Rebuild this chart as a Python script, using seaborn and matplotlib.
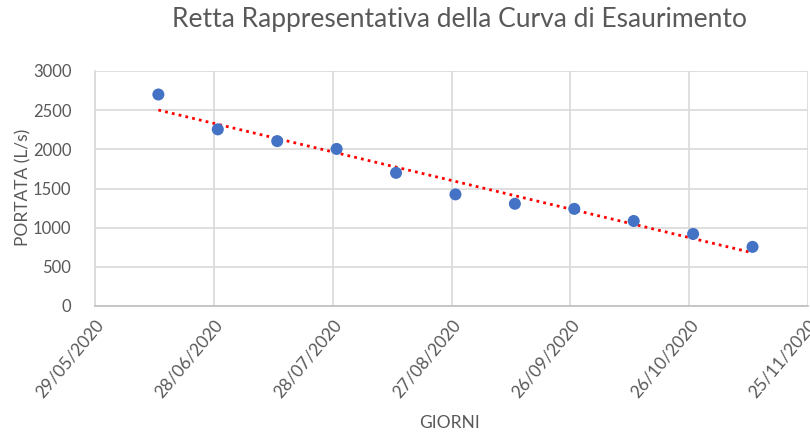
import matplotlib
matplotlib.use("Agg")
import matplotlib.pyplot as plt
import matplotlib.dates as mdates
import seaborn as sns
import pandas as pd
import numpy as np

dates = ["14/06/2020", "29/06/2020", "14/07/2020", "29/07/2020", "13/08/2020",
         "28/08/2020", "12/09/2020", "27/09/2020", "12/10/2020", "27/10/2020",
         "11/11/2020"]
portata = [2700, 2255, 2105, 2005, 1700, 1425, 1305, 1240, 1085, 920, 755]
x_ticks = ["29/05/2020", "28/06/2020", "28/07/2020", "27/08/2020",
           "26/09/2020", "26/10/2020", "25/11/2020"]
y_ticks = [0, 500, 1000, 1500, 2000, 2500, 3000]

sns.set_theme(style="white")
plt.rcParams['font.family'] = ['Lato', 'DejaVu Sans']

df = pd.DataFrame({
    "giorno": mdates.date2num(pd.to_datetime(dates, format="%d/%m/%Y")),
    "portata": portata,
})
tick_nums = mdates.date2num(pd.to_datetime(x_ticks, format="%d/%m/%Y"))

fig = plt.figure(figsize=(8.10, 4.34), dpi=100)
ax = fig.add_axes([95/810, 1-306/434, (808-95)/810, (306-71)/434])

sns.regplot(data=df, x="giorno", y="portata", ax=ax, scatter=False, ci=None,
            truncate=True,
            line_kws=dict(color="#ff0000", linestyle=(0, (1, 1.5)), linewidth=2.0))
sns.scatterplot(data=df, x="giorno", y="portata", ax=ax, s=75,
                color="#4472c4", edgecolor="none", zorder=3)

ax.set_xlim(tick_nums[0], tick_nums[-1])
ax.set_ylim(0, 3000)
ax.set_xticks(tick_nums)
ax.set_xticklabels(x_ticks, rotation=50, ha="right", rotation_mode="anchor")
ax.set_yticks(y_ticks)
ax.grid(True, color="#d9d9d9", linewidth=1.2)
ax.set_axisbelow(True)
for s in ["top", "right"]:
    ax.spines[s].set_visible(False)
ax.spines["left"].set_color("#d9d9d9")
ax.spines["bottom"].set_color("#bfbfbf")
ax.spines["left"].set_linewidth(1.2)
ax.spines["bottom"].set_linewidth(1.2)
ax.tick_params(axis="x", length=0, colors="#595959", labelsize=12.5, pad=8)
ax.tick_params(axis="y", length=0, colors="#595959", labelsize=12, pad=17)

ax.set_xlabel("GIORNI", color="#595959", fontsize=12.5)
ax.set_ylabel("PORTATA (L/s)", color="#595959", fontsize=12.5)
ax.xaxis.label.set_va("center")
ax.yaxis.label.set_va("center")
ax.yaxis.label.set_ha("center")
ax.xaxis.set_label_coords((450-95)/(808-95), -(423-306)/(306-71))
ax.yaxis.set_label_coords(-(95-23)/(808-95), (306-187)/(306-71))

fig.text(459/810, 1-20/434, "Retta Rappresentativa della Curva di Esaurimento",
         ha="center", va="center", fontsize=19, color="#595959")

fig.savefig("out.png", dpi=100)
